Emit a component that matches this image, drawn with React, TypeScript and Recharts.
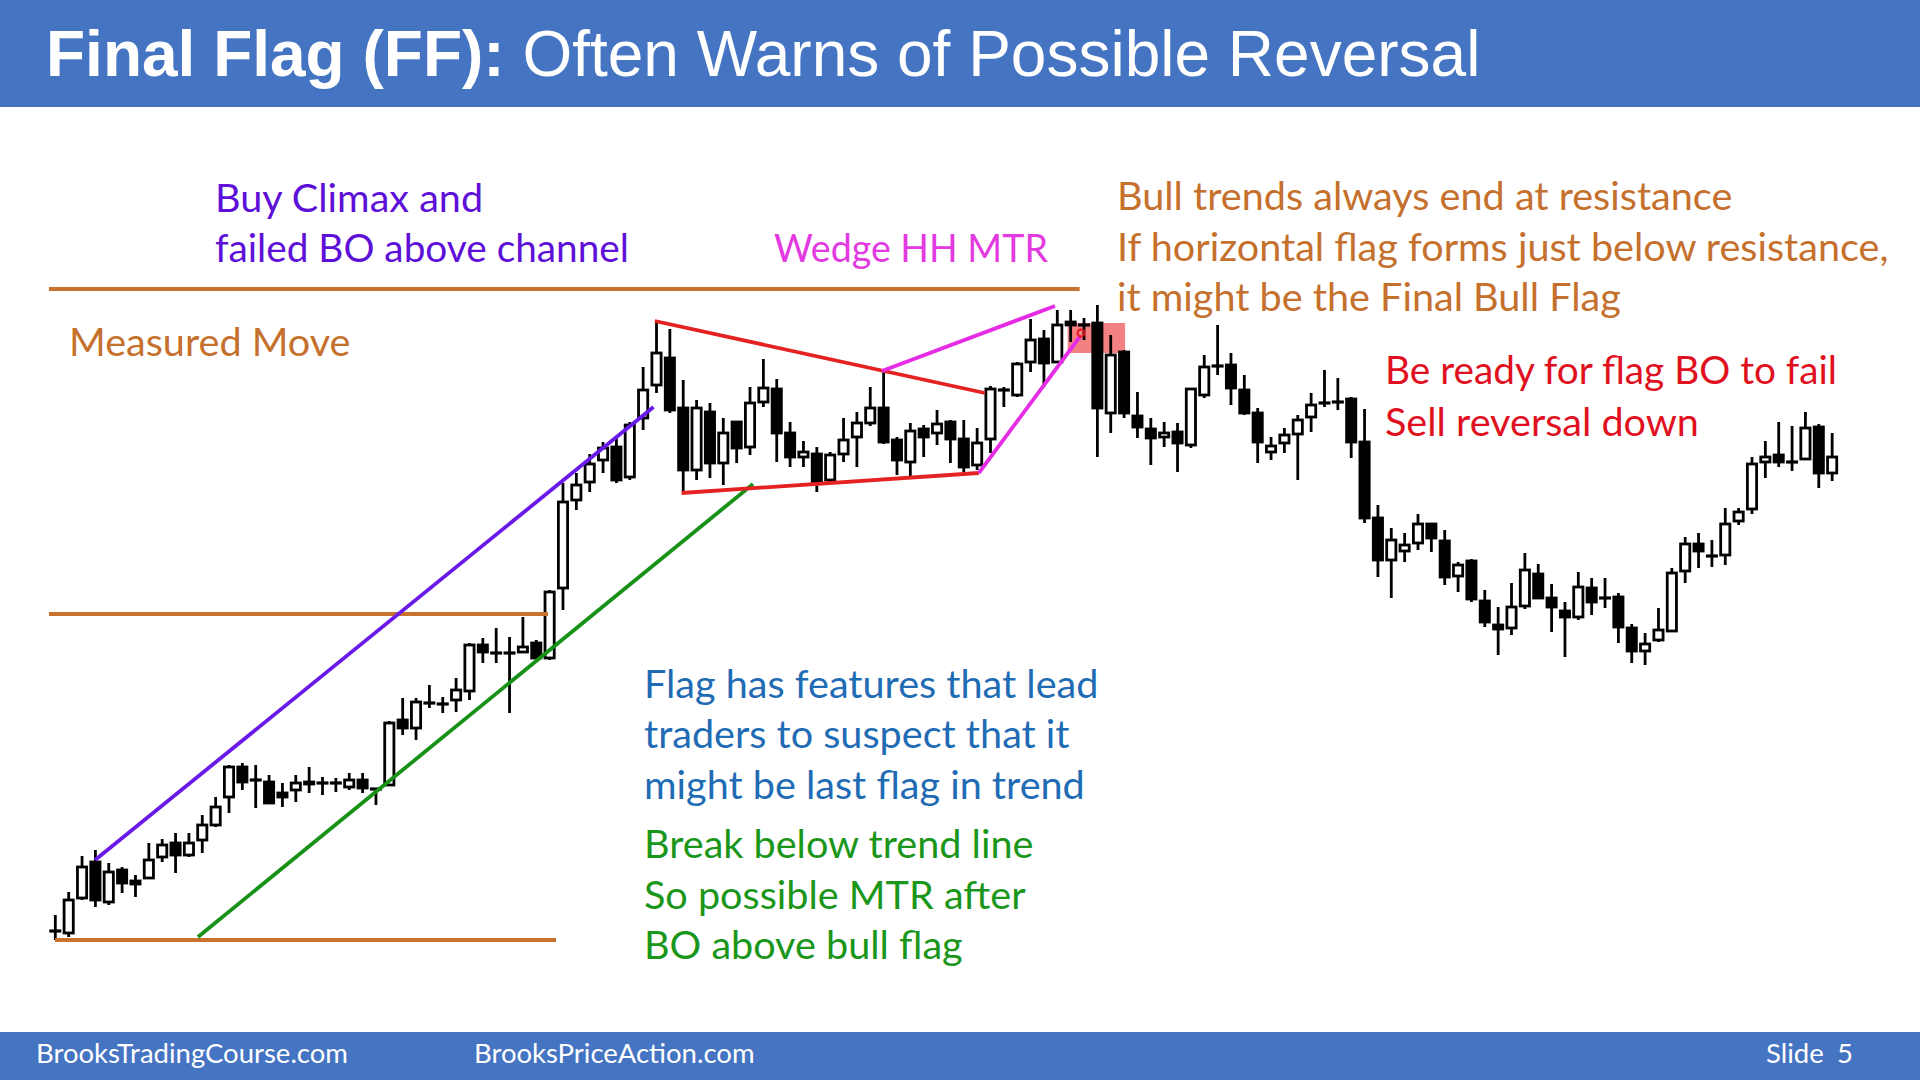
import React from 'react';
import {
  ComposedChart,
  Bar,
  XAxis,
  YAxis,
  ReferenceLine,
  ReferenceArea,
  ReferenceDot,
} from 'recharts';

// ─── SLIDE GEOMETRY ──────────────────────────────────────────────────────────
const W = 1920;
const H = 1080;

// ─── CANDLES (bar 1..134, price units) ───────────────────────────────────────
const opens = [
  69, 67, 102, 138, 98, 130, 119, 122, 143, 157,
  145, 160, 175, 203, 233, 220, 218, 207, 210, 218,
  217, 217, 213, 220, 211, 215, 280, 272, 297, 296,
  300, 309, 355, 347, 347, 348, 357, 342, 412, 500,
  518, 540, 553, 523, 582, 615, 642, 592, 530, 588,
  537, 578, 553, 598, 611, 567, 543, 546, 520, 546,
  563, 577, 592, 560, 538, 571, 567, 578, 561, 535,
  561, 610, 605, 638, 661, 638, 678, 675, 677, 587,
  648, 584, 571, 563, 568, 555, 605, 634, 635, 610,
  587, 548, 557, 566, 583, 597, 598, 601, 558, 482,
  440, 449, 457, 476, 459, 424, 439, 399, 375, 372,
  394, 426, 402, 389, 383, 412, 402, 403, 372, 349,
  360, 369, 429, 456, 444, 445, 479, 491, 538, 545,
  538, 541, 573, 527,
];

const closes = [
  69, 100, 133, 100, 128, 117, 116, 140, 155, 145,
  157, 175, 193, 233, 218, 220, 197, 203, 217, 216,
  217, 217, 220, 212, 211, 277, 272, 298, 297, 296,
  310, 355, 348, 347, 347, 353, 342, 408, 498, 515,
  536, 552, 520, 575, 610, 647, 590, 530, 592, 537,
  567, 552, 597, 612, 567, 543, 548, 518, 545, 560,
  577, 592, 558, 540, 569, 563, 576, 561, 533, 557,
  611, 610, 636, 660, 637, 675, 675, 675, 592, 645,
  587, 573, 562, 567, 557, 611, 633, 634, 612, 587,
  558, 554, 565, 580, 595, 597, 598, 558, 482, 440,
  460, 455, 476, 462, 423, 435, 401, 378, 371, 393,
  430, 402, 393, 383, 413, 398, 402, 373, 349, 356,
  370, 427, 456, 449, 444, 476, 488, 536, 543, 538,
  538, 572, 527, 543,
];

const highs = [
  85, 108, 144, 150, 137, 133, 125, 157, 161, 167,
  167, 185, 203, 235, 237, 235, 225, 217, 225, 233,
  223, 222, 227, 227, 212, 279, 302, 302, 315, 303,
  322, 357, 362, 372, 363, 383, 360, 410, 517, 527,
  546, 558, 563, 578, 633, 680, 671, 620, 600, 597,
  582, 578, 613, 641, 621, 578, 559, 553, 548, 582,
  588, 613, 628, 563, 577, 575, 590, 580, 580, 572,
  614, 613, 638, 681, 670, 690, 690, 682, 695, 665,
  650, 608, 582, 578, 577, 612, 645, 675, 647, 625,
  592, 563, 572, 585, 607, 630, 622, 603, 591, 495,
  472, 467, 486, 477, 470, 438, 441, 410, 393, 417,
  447, 436, 416, 398, 428, 422, 422, 407, 376, 367,
  392, 432, 463, 467, 460, 492, 492, 543, 559, 578,
  574, 588, 576, 567,
];

const lows = [
  60, 63, 100, 93, 95, 107, 103, 122, 138, 127,
  143, 147, 173, 187, 210, 192, 197, 193, 198, 207,
  205, 208, 210, 207, 195, 215, 265, 260, 292, 287,
  288, 300, 337, 337, 287, 347, 341, 340, 390, 490,
  508, 527, 517, 520, 570, 607, 587, 508, 520, 522,
  515, 537, 545, 593, 538, 533, 533, 508, 518, 538,
  533, 574, 556, 525, 523, 543, 555, 537, 528, 530,
  547, 593, 603, 628, 613, 637, 658, 660, 543, 567,
  582, 562, 535, 553, 528, 552, 602, 625, 595, 585,
  537, 540, 547, 520, 568, 593, 590, 542, 477, 423,
  402, 438, 450, 448, 415, 408, 398, 373, 345, 365,
  391, 401, 368, 343, 380, 385, 392, 357, 337, 335,
  358, 369, 417, 432, 433, 435, 475, 486, 522, 533,
  529, 540, 512, 519,
];

const candles = opens.map((open, k) => ({
  bar: k + 1,
  open,
  close: closes[k],
  high: highs[k],
  low: lows[k],
}));

// ─── ANNOTATION LINES (bar index, price) ─────────────────────────────────────
const ORANGE = '#C8722E';
const PURPLE = '#6A1AE8';
const GREEN = '#179117';
const RED = '#E42222';
const MAGENTA = '#E52BE3';

const guideLines = [
  { color: ORANGE, from: [0.55, 711], to: [77.7, 711] },
  { color: ORANGE, from: [0.55, 386], to: [37.9, 386] },
  { color: ORANGE, from: [1, 60], to: [38.5, 60] },
  { color: PURPLE, from: [4.0, 140], to: [45.8, 593] },
  { color: GREEN, from: [11.7, 63], to: [53.25, 516] },
  { color: RED, from: [45.9, 679], to: [70.6, 607] },
  { color: RED, from: [47.9, 507], to: [70.15, 527] },
  { color: MAGENTA, from: [62.9, 629], to: [75.85, 694] },
  { color: MAGENTA, from: [70.15, 527], to: [77.7, 663] },
];

// ─── CANDLE SHAPE ─────────────────────────────────────────────────────────────
function Candle(props: any) {
  const { x, width, payload } = props;
  let { y, height } = props;
  if (height < 0) {
    y += height;
    height = -height;
  }
  const { open, close, high, low } = payload;
  const cx = x + width / 2;
  const ppu = high === low ? 0 : height / (high - low);
  const yOf = (v: number) => y + (high - v) * ppu;
  const top = yOf(Math.max(open, close));
  const bot = yOf(Math.min(open, close));
  const bull = close > open;
  return (
    <g>
      <line x1={cx} x2={cx} y1={y} y2={y + height} stroke="#000" strokeWidth={2.8} />
      {open === close ? (
        <line x1={x} x2={x + width} y1={top} y2={top} stroke="#000" strokeWidth={3.2} />
      ) : (
        <rect
          x={x + 1.4}
          y={top}
          width={width - 2.8}
          height={Math.max(bot - top, 1)}
          fill={bull ? '#fff' : '#000'}
          stroke="#000"
          strokeWidth={2.8}
        />
      )}
    </g>
  );
}

// ─── TEXT ─────────────────────────────────────────────────────────────────────
const BODY_FONT = 'Lato, "Noto Sans", sans-serif';
const BODY_SIZE = 39.6;

// fit: width of the line in the slide, where Lato runs a little wide
const notes = [
  { text: 'Buy Climax and', x: 215, y: 212, color: '#5E10D8' },
  { text: 'failed BO above channel', x: 215, y: 262, color: '#5E10D8', fit: 414 },
  { text: 'Measured Move', x: 69, y: 356, color: '#C5702D' },
  { text: 'Wedge HH MTR', x: 774, y: 262, color: '#E23AE0', fit: 274 },
  { text: 'Bull trends always end at resistance', x: 1117, y: 210, color: '#C5702D' },
  { text: 'If horizontal flag forms just below resistance,', x: 1117, y: 261, color: '#C5702D' },
  { text: 'it might be the Final Bull Flag', x: 1117, y: 311, color: '#C5702D' },
  { text: 'Be ready for flag BO to fail', x: 1385, y: 384, color: '#E0101E', fit: 452 },
  { text: 'Sell reversal down', x: 1385, y: 436, color: '#E0101E' },
  { text: 'Flag has features that lead', x: 644, y: 698, color: '#1F6CB5' },
  { text: 'traders to suspect that it', x: 644, y: 748, color: '#1F6CB5' },
  { text: 'might be last flag in trend', x: 644, y: 799, color: '#1F6CB5' },
  { text: 'Break below trend line', x: 644, y: 858, color: '#1A961A' },
  { text: 'So possible MTR after', x: 644, y: 909, color: '#1A961A' },
  { text: 'BO above bull flag', x: 644, y: 959, color: '#1A961A' },
];

const BAR_BLUE = '#4574C3';
const FOOT_SIZE = 27.5;

export default function App() {
  return (
    <div style={{ position: 'absolute', left: 0, top: 0, width: W, height: H, background: '#fff' }}>
      <div style={{ position: 'absolute', left: 0, top: 0 }}>
        <ComposedChart width={W} height={H} data={candles} margin={{ top: 0, right: 0, bottom: 0, left: 0 }}>
          <XAxis type="number" dataKey="bar" domain={[-3.117, 140.6]} allowDataOverflow hide />
          <YAxis type="number" domain={[-80, 1000]} allowDataOverflow hide />
          {guideLines.map((g, k) => (
            <ReferenceLine
              key={`g-${k}`}
              segment={[
                { x: g.from[0], y: g.from[1] },
                { x: g.to[0], y: g.to[1] },
              ]}
              stroke={g.color}
              strokeWidth={3.8}
              ifOverflow="visible"
            />
          ))}
          <Bar
            dataKey={(d: any) => [d.low, d.high]}
            barSize={12}
            isAnimationActive={false}
            shape={(p: any) => <Candle {...p} />}
          />
          <ReferenceArea
            x1={76.8}
            x2={81.1}
            y1={647}
            y2={677}
            fill="#EE3434"
            fillOpacity={0.62}
            stroke="none"
            ifOverflow="visible"
          />
          <ReferenceDot x={77.8} y={667} r={3.5} fill="none" stroke="#E8101E" strokeWidth={2} ifOverflow="visible" />
        </ComposedChart>
      </div>

      <svg width={W} height={H} style={{ position: 'absolute', left: 0, top: 0, pointerEvents: 'none' }}>
        <rect x={0} y={0} width={W} height={107} fill={BAR_BLUE} />
        <text x={46} y={76} fill="#fff" fontFamily='"Liberation Sans", Arial, sans-serif' fontSize={64}>
          <tspan fontWeight="bold">Final Flag (FF):</tspan> Often Warns of Possible Reversal
        </text>

        {notes.map((n, k) => (
          <text
            key={`n-${k}`}
            x={n.x}
            y={n.y}
            fill={n.color}
            fontFamily={BODY_FONT}
            fontSize={BODY_SIZE}
            textLength={n.fit}
            lengthAdjust={n.fit ? 'spacingAndGlyphs' : undefined}
          >
            {n.text}
          </text>
        ))}

        <rect x={0} y={1032} width={W} height={48} fill={BAR_BLUE} />
        <text x={36} y={1063} fill="#fff" fontFamily={BODY_FONT} fontSize={FOOT_SIZE}>BrooksTradingCourse.com</text>
        <text x={474} y={1063} fill="#fff" fontFamily={BODY_FONT} fontSize={FOOT_SIZE}>BrooksPriceAction.com</text>
        <text x={1766} y={1063} fill="#fff" fontFamily={BODY_FONT} fontSize={FOOT_SIZE}>Slide</text>
        <text x={1837} y={1063} fill="#fff" fontFamily={BODY_FONT} fontSize={FOOT_SIZE}>5</text>
      </svg>
    </div>
  );
}
